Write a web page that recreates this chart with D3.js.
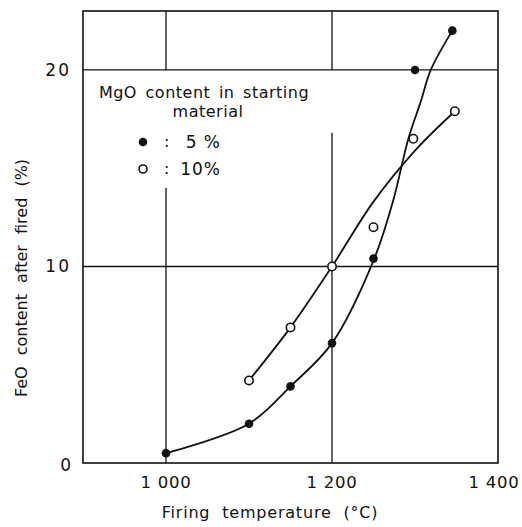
<!DOCTYPE html>
<html>
    <head>
        <meta charset="UTF-8">
        <script src="https://d3js.org/d3.v7.min.js"></script>
        <style>
            body { margin: 0; background: #fff; }
            text { font-family: "DejaVu Sans", sans-serif; fill: #111; }
        </style>
    </head>

    <body>

        <svg id="canvas"></svg>

        <script>

            width = 522;
            height = 527;
            margin = {top: 11, right: 24, bottom: 64, left: 83};

            // measured points (temperature, FeO %)
            temp5 = [1000, 1100, 1150, 1200, 1250, 1300, 1345];
            feo5 = [0.5, 2.0, 3.9, 6.1, 10.4, 20.0, 22.0];
            temp10 = [1100, 1150, 1200, 1250, 1298, 1348];
            feo10 = [4.2, 6.9, 10.0, 12.0, 16.5, 17.9];

            // hand-drawn fitted curves
            curveT5 = [1000, 1100, 1150, 1200, 1250, 1274, 1292, 1307, 1319, 1345];
            curveF5 = [0.5, 2.0, 3.9, 6.1, 10.3, 13.4, 16.5, 18.4, 20.0, 22.0];
            curveT10 = [1100, 1150, 1200, 1250, 1300, 1348];
            curveF10 = [4.2, 6.9, 10.0, 13.3, 15.9, 17.9];

            xTicks = [1000, 1200, 1400];
            xTickLabels = ["1 000", "1 200", "1 400"];
            yTicks = [0, 10, 20];

            // vertical grid lines are broken where the legend sits
            gridX = [1000, 1200];
            gridGapLow = [14.0, 16.8];

            canvas = d3.select("#canvas")
                .attr("width", width)
                .attr("height", height);

            x = d3.scaleLinear()
                .domain([900, 1400])
                .range([margin.left, width - margin.right]);

            y = d3.scaleLinear()
                .domain([0, 23])
                .range([height - margin.bottom, margin.top]);

            ink = "#111";

            // horizontal grid
            canvas.selectAll(".hgrid")
                .data([10, 20])
                .enter().append("line")
                    .attr("x1", x(900)).attr("x2", x(1400))
                    .attr("y1", (d) => y(d)).attr("y2", (d) => y(d))
                    .attr("stroke", ink).attr("stroke-width", 1.3);

            // vertical grid, upper part and lower part
            gridX.forEach((gx, i) => {
                canvas.append("line")
                    .attr("x1", x(gx)).attr("x2", x(gx))
                    .attr("y1", y(23)).attr("y2", y(20))
                    .attr("stroke", ink).attr("stroke-width", 1.3);
                canvas.append("line")
                    .attr("x1", x(gx)).attr("x2", x(gx))
                    .attr("y1", y(gridGapLow[i])).attr("y2", y(0))
                    .attr("stroke", ink).attr("stroke-width", 1.3);
            });

            // frame
            canvas.append("rect")
                .attr("x", x(900)).attr("y", y(23))
                .attr("width", x(1400) - x(900)).attr("height", y(0) - y(23))
                .attr("fill", "none").attr("stroke", ink).attr("stroke-width", 1.6);

            line = d3.line()
                .x((d) => x(d[0]))
                .y((d) => y(d[1]))
                .curve(d3.curveCatmullRom.alpha(0.5));

            canvas.append("path")
                .datum(d3.zip(curveT5, curveF5))
                .attr("d", line)
                .attr("fill", "none").attr("stroke", ink).attr("stroke-width", 1.8);

            canvas.append("path")
                .datum(d3.zip(curveT10, curveF10))
                .attr("d", line)
                .attr("fill", "none").attr("stroke", ink).attr("stroke-width", 1.8);

            canvas.selectAll(".p5")
                .data(d3.zip(temp5, feo5))
                .enter().append("circle")
                    .attr("cx", (d) => x(d[0])).attr("cy", (d) => y(d[1]))
                    .attr("r", 4.3)
                    .attr("fill", ink);

            canvas.selectAll(".p10")
                .data(d3.zip(temp10, feo10))
                .enter().append("circle")
                    .attr("cx", (d) => x(d[0])).attr("cy", (d) => y(d[1]))
                    .attr("r", 4.2)
                    .attr("fill", "#fff").attr("stroke", ink).attr("stroke-width", 1.6);

            // tick labels (last one pulled in so it stays on the page)
            canvas.selectAll(".xt")
                .data(xTicks)
                .enter().append("text")
                    .attr("x", (d) => Math.min(x(d), width - 28)).attr("y", y(0) + 25)
                    .attr("text-anchor", "middle")
                    .attr("font-size", 16.5)
                    .attr("letter-spacing", 0.8)
                    .text((d, i) => xTickLabels[i]);

            canvas.selectAll(".yt")
                .data(yTicks)
                .enter().append("text")
                    .attr("x", (d) => d == 0 ? 73 : 71).attr("y", (d) => y(d) + (d == 0 ? 8 : 6))
                    .attr("text-anchor", "end")
                    .attr("font-size", 17)
                    .attr("letter-spacing", 2)
                    .text((d) => d);

            // axis titles
            canvas.append("text")
                .attr("x", 270).attr("y", 518)
                .attr("text-anchor", "middle")
                .attr("font-size", 16)
                .attr("letter-spacing", 0.8)
                .attr("word-spacing", 6)
                .text("Firing temperature (°C)");

            canvas.append("text")
                .attr("transform", "translate(27,278) rotate(-90)")
                .attr("text-anchor", "middle")
                .attr("font-size", 16)
                .attr("letter-spacing", 0)
                .attr("word-spacing", 6)
                .text("FeO content after fired (%)");

            // legend
            canvas.append("text")
                .attr("x", 204).attr("y", 98)
                .attr("text-anchor", "middle")
                .attr("font-size", 16)
                .attr("letter-spacing", 0.5)
                .attr("word-spacing", 3)
                .text("MgO content in starting");
            canvas.append("text")
                .attr("x", 208).attr("y", 117)
                .attr("text-anchor", "middle")
                .attr("font-size", 16)
                .attr("letter-spacing", 0.5)
                .text("material");

            legendY = [142, 169];
            legendText = ["5 %", "10%"];
            canvas.append("circle")
                .attr("cx", 143).attr("cy", legendY[0]).attr("r", 4.3).attr("fill", ink);
            canvas.append("circle")
                .attr("cx", 143).attr("cy", legendY[1]).attr("r", 4)
                .attr("fill", "#fff").attr("stroke", ink).attr("stroke-width", 1.6);
            legendY.forEach((ly, i) => {
                canvas.append("text")
                    .attr("x", 164).attr("y", ly + 5)
                    .attr("font-size", 16)
                    .text(":");
                canvas.append("text")
                    .attr("x", 221).attr("y", ly + 6)
                    .attr("text-anchor", "end")
                    .attr("font-size", 17)
                    .attr("letter-spacing", 1)
                    .text(legendText[i]);
            });

        </script>

    </body>

</html>
